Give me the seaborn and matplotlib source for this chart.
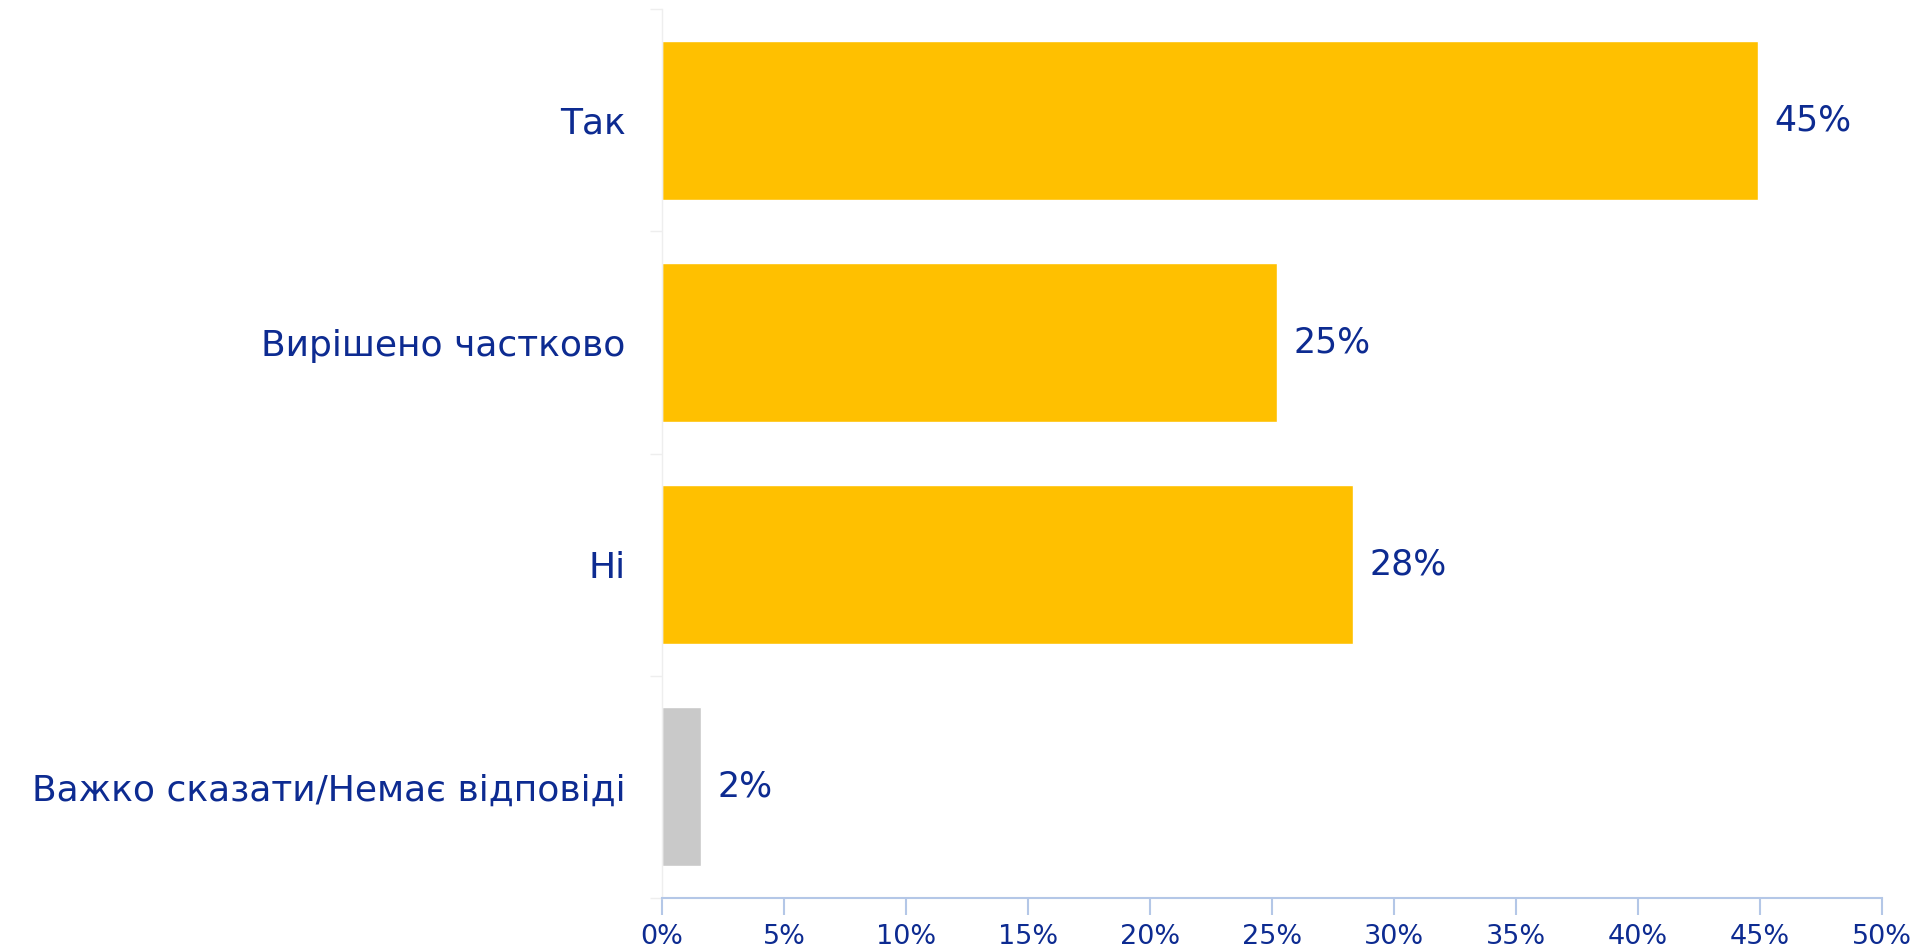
import matplotlib
matplotlib.use("Agg")
import matplotlib.pyplot as plt
import seaborn as sns
import pandas as pd
from matplotlib.ticker import FixedLocator, FuncFormatter

categories = ["Так", "Вирішено частково", "Ні", "Важко сказати/Немає відповіді"]
shares = [44.9, 25.2, 28.3, 1.6]
bar_colors = ["#FFC000", "#FFC000", "#FFC000", "#C9C9C9"]
x_ticks = [0, 5, 10, 15, 20, 25, 30, 35, 40, 45, 50]

TEXT = "#0D2B91"
AXIS_BLUE = "#B4C7E7"
FAINT = "#EEEEEE"

sns.set_theme(style="white")
plt.rcParams["font.family"] = ["DejaVu Sans"]

df = pd.DataFrame({"category": categories, "share": shares})

fig = plt.figure(figsize=(19.26, 9.51), dpi=100)
ax = fig.add_axes([0.3437, 0.0557, 0.6335, 0.9348])

sns.barplot(data=df, x="share", y="category", hue="category",
            palette=bar_colors, order=categories, hue_order=categories,
            width=0.716, legend=False, saturation=1, ax=ax)

ax.set_xlim(0, 50)
ax.set_ylim(3.5, -0.5)
ax.set_xlabel("")
ax.set_ylabel("")

ax.xaxis.set_major_locator(FixedLocator(x_ticks))
ax.xaxis.set_major_formatter(FuncFormatter(lambda v, _: f"{v:.0f}%"))
ax.tick_params(axis="x", which="major", direction="out", length=12, width=1.5,
               color=AXIS_BLUE, labelsize=19.5, labelcolor=TEXT, pad=7, bottom=True)

ax.yaxis.set_minor_locator(FixedLocator([-0.5, 0.5, 1.5, 2.5, 3.5]))
ax.tick_params(axis="y", which="major", length=0, labelsize=26, labelcolor=TEXT, pad=26)
ax.tick_params(axis="y", which="minor", left=True, direction="out", length=9,
               width=1, color=FAINT)

for side in ("top", "right"):
    ax.spines[side].set_visible(False)
ax.spines["bottom"].set_color(AXIS_BLUE)
ax.spines["bottom"].set_linewidth(1.5)
ax.spines["left"].set_color(FAINT)
ax.spines["left"].set_linewidth(1)

for container in ax.containers:
    ax.bar_label(container, labels=[f"{v:.0f}%" for v in container.datavalues],
                 padding=12, fontsize=25, color=TEXT)

fig.savefig("out.png", dpi=100, facecolor="white")
